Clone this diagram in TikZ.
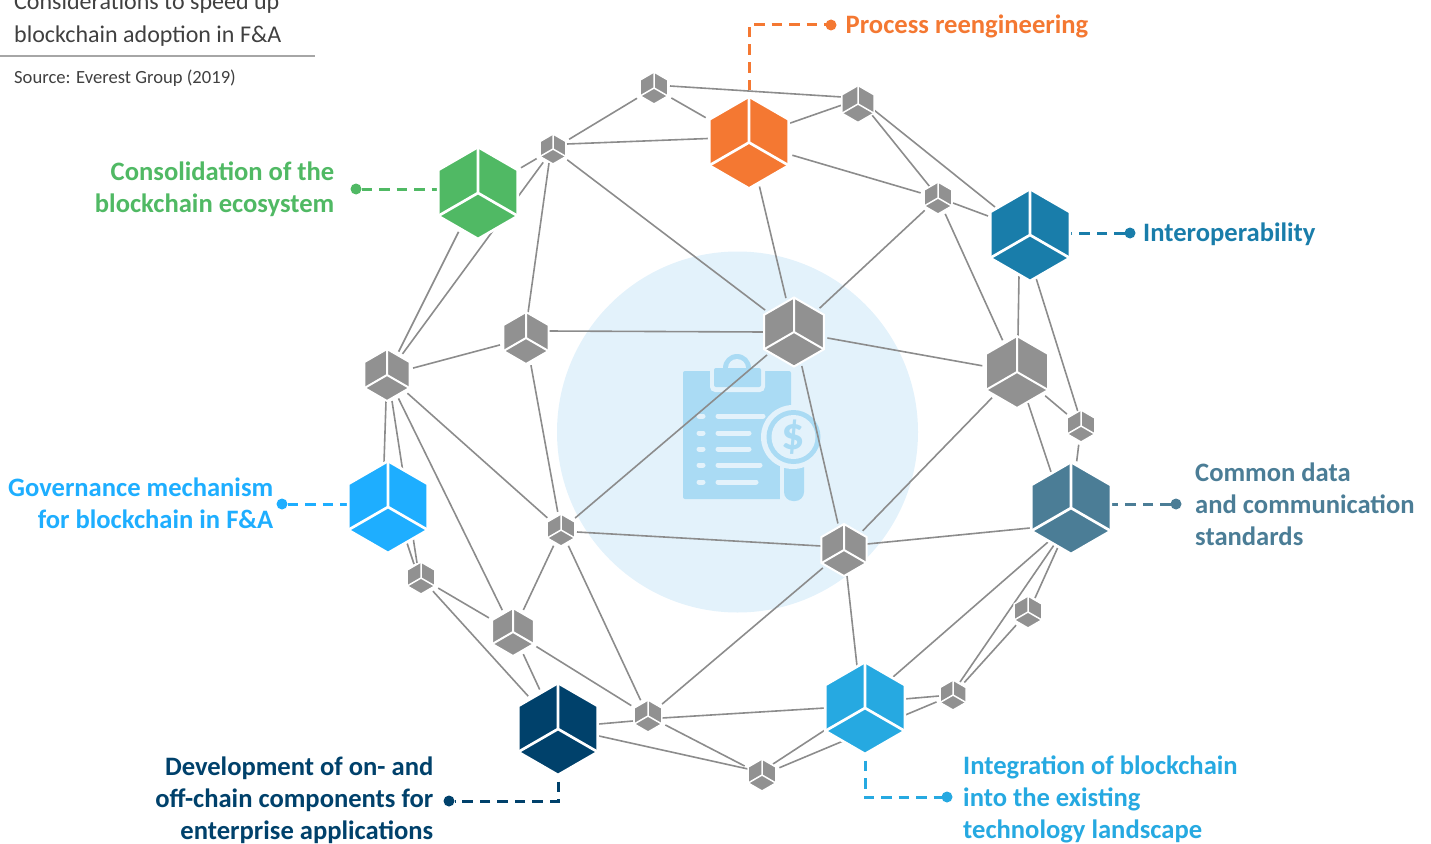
\documentclass[tikz,border=0pt]{standalone}
\usepackage{fontspec}
\setmainfont{Carlito}
\usetikzlibrary{positioning,shapes.geometric,backgrounds}
\definecolor{cOrange}{HTML}{F47832}
\definecolor{cGreen}{HTML}{50B964}
\definecolor{cTeal}{HTML}{197DAA}
\definecolor{cSlate}{HTML}{4B7D96}
\definecolor{cSky}{HTML}{26A9E1}
\definecolor{cNavy}{HTML}{00416B}
\definecolor{cAzure}{HTML}{1EAEFF}
\definecolor{cGray}{HTML}{919191}
\definecolor{cLine}{HTML}{8C8C8C}
\definecolor{cHalo}{HTML}{E3F2FB}
\definecolor{cIcon}{HTML}{AADBF4}
\begin{document}
\begin{tikzpicture}[x=1pt, y=-1pt,
  cube/.style n args={3}{regular polygon, regular polygon sides=6, shape border rotate=30, fill=#1, draw=white, line width=#3, minimum size=#2, inner sep=0pt, outer sep=3.5pt,
    path picture={\draw[white, line width=#3] (path picture bounding box.center) -- ++(90:80pt) (path picture bounding box.center) -- ++(210:80pt) (path picture bounding box.center) -- ++(330:80pt);}},
  link/.style={draw=cLine, line width=1.6pt},
  leader/.style={line width=3pt, dash pattern=on 10.5pt off 7pt},
  dot/.style={circle, fill=#1, minimum size=11pt, inner sep=0pt, outer sep=0pt},
  tag/.style={font=\fontsize{26.6}{32}\selectfont\bfseries, inner sep=0pt}]

  \useasboundingbox (0,0) rectangle (1431,843);

  % Coloured cubes
  \node[cube={cOrange}{92}{2.7pt}] (O) at (749,142.5) {};
  \node[cube={cGreen}{92}{2.7pt}] (G) at (478,193) {};
  \node[cube={cTeal}{92}{2.7pt}] (I) at (1030,235) {};
  \node[cube={cSlate}{92}{2.7pt}] (C) at (1071,508) {};
  \node[cube={cSky}{92}{2.7pt}] (L) at (865,708) {};
  \node[cube={cNavy}{92}{2.7pt}] (D) at (558,729) {};
  \node[cube={cAzure}{92}{2.7pt}] (B) at (388,507) {};

  % Gray cubes
  \node[cube={cGray}{32}{1.5pt}] (N1) at (654,88) {};
  \node[cube={cGray}{37}{1.5pt}] (N2) at (858,104) {};
  \node[cube={cGray}{30}{1.5pt}] (N3) at (553,149) {};
  \node[cube={cGray}{32}{1.5pt}] (N4) at (938,198) {};
  \node[cube={cGray}{69}{2pt}] (N5) at (794,332) {};
  \node[cube={cGray}{52}{2pt}] (N6) at (526,338) {};
  \node[cube={cGray}{72}{2pt}] (N7) at (1017,372) {};
  \node[cube={cGray}{52}{2pt}] (N8) at (387,375) {};
  \node[cube={cGray}{32}{1.5pt}] (N9) at (1081,426) {};
  \node[cube={cGray}{32}{1.5pt}] (N10) at (561,530) {};
  \node[cube={cGray}{52}{2pt}] (N11) at (844,550) {};
  \node[cube={cGray}{32}{1.5pt}] (N12) at (421,578) {};
  \node[cube={cGray}{48}{2pt}] (N13) at (513,632) {};
  \node[cube={cGray}{32}{1.5pt}] (N14) at (1028,612) {};
  \node[cube={cGray}{30}{1.5pt}] (N15) at (953,695) {};
  \node[cube={cGray}{32}{1.5pt}] (N16) at (648,716) {};
  \node[cube={cGray}{32}{1.5pt}] (N17) at (762,775) {};

  % Heading
  \node[anchor=base west, inner sep=0pt, text=black!75, font=\fontsize{24}{28}\selectfont] (T1) at (14,10) {Considerations to speed up};
  \node[anchor=base west, inner sep=0pt, text=black!75, font=\fontsize{24}{28}\selectfont] (T2) at (14,42) {blockchain adoption in F\&A};
  \node[anchor=base west, inner sep=0pt, text=black!75, font=\fontsize{18.6}{20}\selectfont] (T3) at (14,83) {Source: Everest Group (2019)};
  \coordinate (R1) at (0,56);
  \coordinate (R2) at (315,56);
  \draw[black!35, line width=2pt] (R1) -- (R2);

  % Label dots
  \node[dot=cOrange] (dO) at (831,25) {};
  \node[dot=cGreen] (dG) at (356,189) {};
  \node[dot=cTeal] (dI) at (1130,233) {};
  \node[dot=cSlate] (dC) at (1176,504) {};
  \node[dot=cSky] (dL) at (947,797) {};
  \node[dot=cNavy] (dD) at (449,801) {};
  \node[dot=cAzure] (dB) at (282,504) {};

  % Labels
  \node[tag, text=cOrange, right=9pt of dO, yshift=-1.5pt] (tO) {Process reengineering};
  \node[tag, text=cGreen, align=right, left=16pt of dG] (tG) {Consolidation of the\\blockchain ecosystem};
  \node[tag, text=cTeal, right=7.5pt of dI, yshift=-1pt] (tI) {Interoperability};
  \node[tag, text=cSlate, align=left, right=13.5pt of dC] (tC) {Common data\\and communication\\standards};
  \node[tag, text=cSky, align=left, right=10.5pt of dL, yshift=-2.5pt] (tL) {Integration of blockchain\\into the existing\\technology landscape};
  \node[tag, text=cNavy, align=right, left=10pt of dD, yshift=1pt] (tD) {Development of on- and\\off-chain components for\\enterprise applications};
  \node[tag, text=cAzure, align=right, left=3pt of dB, yshift=1pt] (tB) {Governance mechanism\\for blockchain in F\&A};

  \begin{scope}[on background layer]
    % Centre disc and clipboard icon
    \fill[cHalo] (737.5,432) circle (180.5);
    \fill[cIcon, rounded corners=2pt] (683,371) rectangle (791,499);
    \fill[cHalo, rounded corners=5pt] (710,360) rectangle (765,392);
    \fill[cIcon] (737,368) circle (14);
    \fill[cHalo] (737,368) circle (9);
    \fill[cIcon, rounded corners=2pt] (714,368) rectangle (761,387);
    \foreach \ypos/\xend in {416/763, 433/749, 449/749, 465/760, 482/756} {
      \draw[cHalo, line width=5pt, line cap=round] (699,\ypos) -- (703,\ypos);
      \draw[cHalo, line width=5pt, line cap=round] (718,\ypos) -- (\xend,\ypos);
    }
    \fill[cHalo] (780,460) rectangle (808,506);
    \fill[cIcon, rounded corners=9pt] (784,450) rectangle (804,501);
    \fill[cHalo] (793,437) circle (32);
    \fill[cIcon] (793.5,437) circle (27);
    \fill[cHalo] (793.5,437) circle (22);
    \node[text=cIcon, inner sep=0pt, font=\fontsize{46}{46}\selectfont\bfseries] (dollar) at (793.5,437) {\$};

    % Links along the top
    \draw[link] (N1) -- (O);
    \draw[link] ([shift={(16,-2)}]N1.center) -- ([shift={(-16,-7)}]N2.center);
    \draw[link] (N1) -- (N3);
    \draw[link] ([shift={(-16,1)}]N2.center) -- ([shift={(40,-19)}]O.center);
    \draw[link] ([shift={(14,11)}]N2.center) -- ([shift={(-8,-11)}]N4.center);
    \draw[link] ([shift={(16,6)}]N2.center) -- ([shift={(-35,-28)}]I.center);
    \draw[link] ([shift={(14,-5)}]N3.center) -- ([shift={(-41,-4)}]O.center);
    \draw[link] (N3) -- (G);
    \draw[link] (N3) -- (N5);
    \draw[link] ([shift={(-4,14)}]N3.center) -- ([shift={(2,-25)}]N6.center);
    \draw[link] (N3) -- (N8);
    \draw[link] (N4) -- (O);
    \draw[link] ([shift={(15,5)}]N4.center) -- ([shift={(-42,-19)}]I.center);
    \draw[link] (N4) -- (N5);
    \draw[link] (N4) -- (N7);

    % Links through the middle
    \draw[link] (G) -- (N8);
    \draw[link] (O) -- (N5);
    \draw[link] ([shift={(-11,40)}]I.center) -- ([shift={(1,-36)}]N7.center);
    \draw[link] ([shift={(6,43)}]I.center) -- ([shift={(-3,-14)}]N9.center);
    \draw[link] ([shift={(-30,0)}]N5.center) -- ([shift={(22,-7)}]N6.center);
    \draw[link] (N5) -- (N7);
    \draw[link] (N5) -- (N10);
    \draw[link] (N5) -- (N11);
    \draw[link] (N6) -- (N8);
    \draw[link] (N6) -- (N10);
    \draw[link] (N7) -- (N9);
    \draw[link] ([shift={(11,31)}]N7.center) -- ([shift={(-20,-36)}]C.center);
    \draw[link] (N7) -- (N11);
    \draw[link] (N9) -- (C);
    \draw[link] ([shift={(-1,26)}]N8.center) -- ([shift={(-4,-44)}]B.center);
    \draw[link] (N8) -- (N10);
    \draw[link] ([shift={(5,26)}]N8.center) -- ([shift={(-4,-15)}]N12.center);
    \draw[link] (N8) -- (N13);
    \draw[link] ([shift={(16,2)}]N10.center) -- ([shift={(-23,-4)}]N11.center);
    \draw[link] ([shift={(23,-6)}]N11.center) -- ([shift={(-41,20)}]C.center);

    % Links along the bottom
    \draw[link] ([shift={(19,36)}]B.center) -- ([shift={(-7,-14)}]N12.center);
    \draw[link] (N10) -- (N13);
    \draw[link] (N10) -- (N16);
    \draw[link] ([shift={(3,26)}]N11.center) -- ([shift={(-8,-42)}]L.center);
    \draw[link] (N11) -- (N16);
    \draw[link] ([shift={(-13,39)}]C.center) -- ([shift={(7,-14)}]N14.center);
    \draw[link] ([shift={(-17,37)}]C.center) -- ([shift={(7,-13)}]N15.center);
    \draw[link] ([shift={(-23,34)}]C.center) -- ([shift={(28,-31)}]L.center);
    \draw[link] (N12) -- (N13);
    \draw[link] (N12) -- (D);
    \draw[link] (N13) -- (D);
    \draw[link] (N13) -- (N16);
    \draw[link] (N14) -- (N15);
    \draw[link] ([shift={(-14,1)}]N15.center) -- ([shift={(39,-9)}]L.center);
    \draw[link] (N15) -- (N17);
    \draw[link] ([shift={(-15,5)}]N16.center) -- ([shift={(41,-5)}]D.center);
    \draw[link] ([shift={(14,2)}]N16.center) -- ([shift={(-40,0)}]L.center);
    \draw[link] (N16) -- (N17);
    \draw[link] ([shift={(-14,-6)}]N17.center) -- ([shift={(41,7)}]D.center);
    \draw[link] ([shift={(11,-11)}]N17.center) -- ([shift={(-40,22)}]L.center);

    % Dashed leaders
    \draw[leader, cOrange] (O.center) |- (dO);
    \draw[leader, cGreen] (dG) -- (G |- dG);
    \draw[leader, cTeal] (dI) -- (I |- dI);
    \draw[leader, cSlate] (dC) -- (C |- dC);
    \draw[leader, cSky] (L.center) |- (dL);
    \draw[leader, cNavy] (D.center) |- (dD);
    \draw[leader, cAzure] (dB) -- (B |- dB);
  \end{scope}

\end{tikzpicture}
\end{document}
